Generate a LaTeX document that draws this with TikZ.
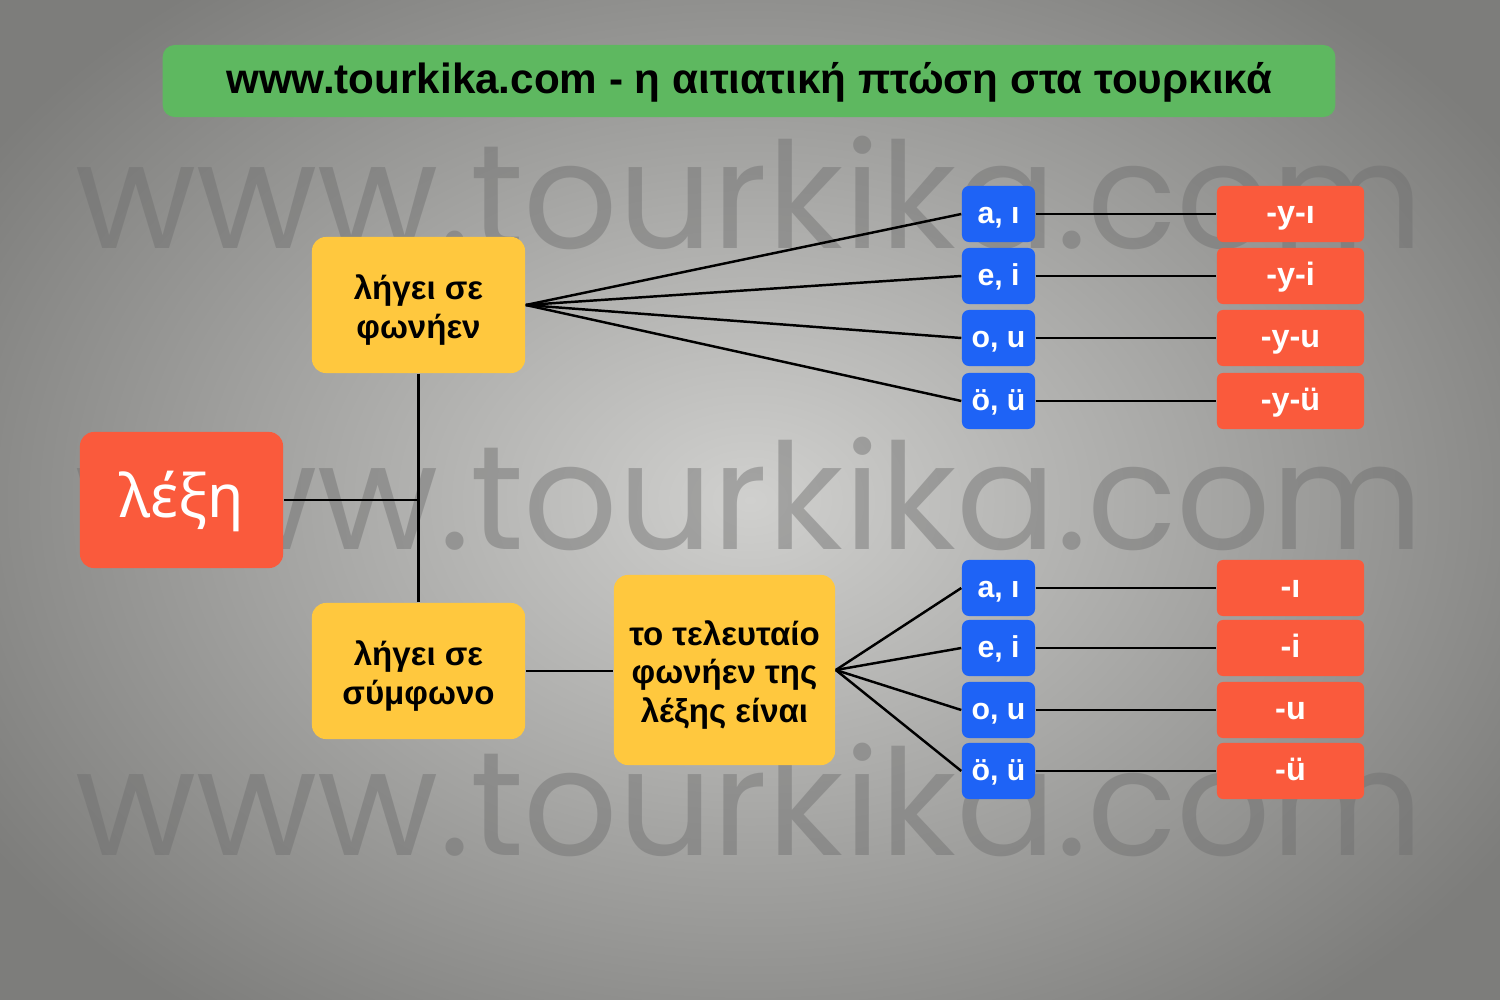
\documentclass[tikz,border=0pt]{standalone}
\usepackage{fontspec}
\setmainfont{Liberation Sans}
\newfontfamily\wmfont{Poppins}
\newfontfamily\wordfont{Noto Sans}
\definecolor{titlegreen}{RGB}{94,184,96}
\definecolor{boxyellow}{RGB}{255,200,62}
\definecolor{boxred}{RGB}{250,90,60}
\definecolor{boxblue}{RGB}{30,99,246}
\definecolor{bglight}{RGB}{208,208,206}
\definecolor{bgdark}{RGB}{125,125,123}
\definecolor{wmgray}{RGB}{110,110,110}
\tikzset{
  box/.style={rectangle, rounded corners=#1, inner sep=0pt, align=center},
  ybox/.style={box=0.14cm, fill=boxyellow},
  ytext/.style={inner sep=0pt, align=center, font=\bfseries\fontsize{9.4}{11}\selectfont, text=black},
  bbox/.style={box=0.07cm, fill=boxblue, minimum width=0.73cm, minimum height=0.56cm, font=\bfseries\fontsize{8.6}{10}\selectfont, text=white, text height=1ex, text depth=0pt},
  rbox/.style={box=0.06cm, fill=boxred, minimum width=1.47cm, minimum height=0.56cm, font=\bfseries\fontsize{9.2}{10}\selectfont, text=white, text height=1ex, text depth=0pt},
  link/.style={line width=0.7pt, black},
  wm/.style={font=\wmfont\fontsize{42}{50}\selectfont, text=wmgray, text opacity=0.45, anchor=base west, inner sep=0pt}
}
\begin{document}
\begin{tikzpicture}[x=0.01cm, y=-0.01cm]
\useasboundingbox (0,0) rectangle (1500,1000);
\shade[inner color=bglight, outer color=bgdark] (-150,-150) rectangle (1650,1150);
% watermarks
\node[wm] (wm1) at (75,248) {www.tourkika.com};
\node[wm] (wm2) at (75,549) {www.tourkika.com};
\node[wm] (wm3) at (75,855) {www.tourkika.com};
% title
\node[box=0.12cm, fill=titlegreen, minimum width=11.72cm, minimum height=0.72cm, font=\bfseries\fontsize{12}{14}\selectfont, text height=0.72em, text depth=0pt] (title) at (749,81) {www.tourkika.com - η αιτιατική πτώση στα τουρκικά};
% main nodes
\node[box=0.14cm, fill=boxred, minimum width=2.03cm, minimum height=1.36cm, font=\wordfont\fontsize{17}{19}\selectfont, text=white, text height=0.98em, text depth=0pt] (lexi) at (181.5,500) {λέξη};
\node[ybox, minimum width=2.13cm, minimum height=1.36cm] (vow) at (418.5,305) {};
\node[ytext] (vowt) at (418.5,310) {λήγει σε\\φωνήεν};
\node[ybox, minimum width=2.13cm, minimum height=1.36cm] (cons) at (418.5,671) {};
\node[ytext] (const) at (418.5,676) {λήγει σε\\σύμφωνο};
\node[ybox, minimum width=2.21cm, minimum height=1.90cm] (last) at (724.5,670) {};
\node[ytext] (lastt) at (724.5,675) {το τελευταίο\\φωνήεν της\\λέξης είναι};
% top group
\node[bbox] (ta) at (998.5,214) {a, ı};
\node[bbox] (te) at (998.5,276) {e, i};
\node[bbox] (to) at (998.5,338) {o, u};
\node[bbox] (tö) at (998.5,401) {ö, ü};
\node[rbox] (ra) at (1290.5,214) {-y-ı};
\node[rbox] (re) at (1290.5,276) {-y-i};
\node[rbox] (ro) at (1290.5,338) {-y-u};
\node[rbox] (rö) at (1290.5,401) {-y-ü};
% bottom group
\node[bbox] (ba) at (998.5,588) {a, ı};
\node[bbox] (be) at (998.5,648) {e, i};
\node[bbox] (bo) at (998.5,710) {o, u};
\node[bbox] (bö) at (998.5,771) {ö, ü};
\node[rbox] (sa) at (1290.5,588) {-ı};
\node[rbox] (se) at (1290.5,648) {-i};
\node[rbox] (so) at (1290.5,710) {-u};
\node[rbox] (sö) at (1290.5,771) {-ü};
% connectors
\coordinate (junc) at (vow.south |- lexi.east);
\draw[link] (vow.south) -- (cons.north);
\draw[link] (lexi.east) -- (junc);
\draw[link] (cons.east) -- (cons.east -| last.west);
\foreach \n in {ta,te,to,tö} \draw[link] (vow.east) -- (\n.west);
\foreach \n in {ba,be,bo,bö} \draw[link] (last.east) -- (\n.west);
\draw[link] (ta) -- (ra); \draw[link] (te) -- (re); \draw[link] (to) -- (ro); \draw[link] (tö) -- (rö);
\draw[link] (ba) -- (sa); \draw[link] (be) -- (se); \draw[link] (bo) -- (so); \draw[link] (bö) -- (sö);
\end{tikzpicture}
\end{document}
